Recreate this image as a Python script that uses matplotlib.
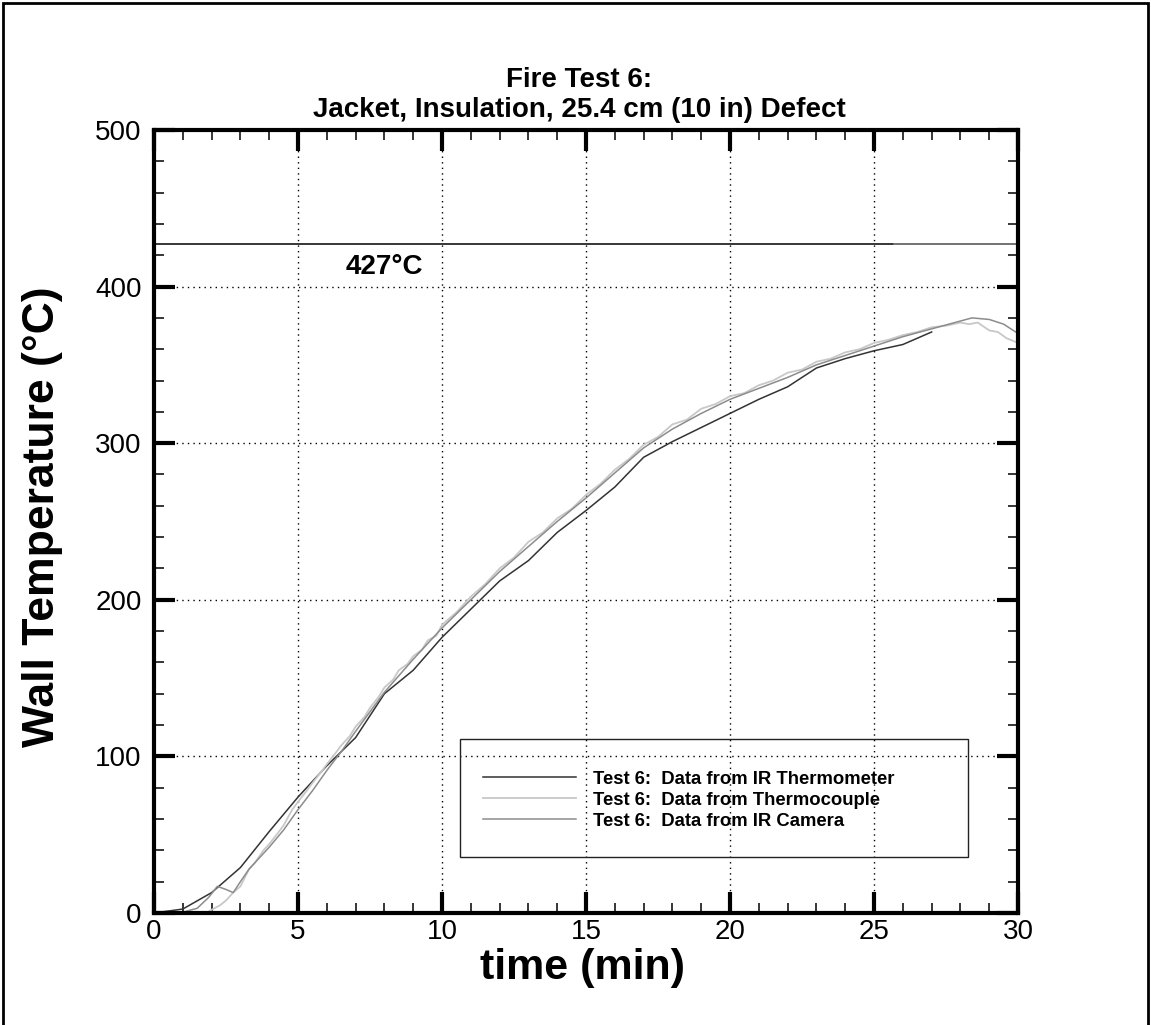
import matplotlib
matplotlib.use("Agg")
import matplotlib.pyplot as plt
from matplotlib.patches import Rectangle
from matplotlib.ticker import MultipleLocator

plt.rcParams['font.family'] = ['Liberation Sans', 'DejaVu Sans']

# IR thermometer readings (min, degC)
ir_t = [0, 1, 2, 3, 4, 5, 6, 7, 8, 9, 10, 11, 12, 13, 14, 15, 16, 17, 18,
        19, 20, 21, 22, 23, 24, 25, 26, 27]
ir_T = [0, 2.5, 13, 29, 52, 74, 94, 112, 140, 155, 176, 194, 212, 225, 243,
        257, 272, 291, 301, 310, 319, 328, 336, 348, 354, 359, 363, 371]

# thermocouple readings
tc_t = [1.8, 2.0, 2.3, 2.5, 2.75, 3.0, 3.3, 3.5, 3.8, 4.0, 4.3, 4.5, 4.8, 5.0,
        5.3, 5.5, 5.8, 6.0, 6.3, 6.5, 6.8, 7.0, 7.3, 7.5, 7.8, 8.0, 8.3, 8.5,
        8.8, 9.0, 9.3, 9.5, 9.8, 10, 10.5, 11, 11.5, 12, 12.5, 13, 13.5, 14,
        14.5, 15, 15.5, 16, 16.5, 17, 17.5, 18, 18.5, 19, 19.5, 20, 20.5, 21,
        21.5, 22, 22.5, 23, 23.5, 24, 24.5, 25, 25.5, 26, 26.5, 27, 27.5, 28,
        28.3, 28.6, 29, 29.3, 29.6, 30]
tc_T = [0, 2, 5, 8, 13, 17, 28, 32, 40, 44, 51, 56, 66, 71, 78, 83, 90, 95,
        102, 107, 113, 119, 125, 131, 138, 144, 149, 155, 159, 164, 168, 174,
        177, 184, 192, 202, 210, 220, 227, 237, 243, 252, 258, 267, 274, 283,
        290, 299, 304, 312, 315, 322, 325, 330, 332, 337, 340, 345, 347, 352,
        354, 358, 360, 364, 366, 369, 371, 374, 375, 377, 376, 377, 372, 371,
        367, 364]

# IR camera readings
cam_t = [0, 1.0, 1.5, 1.9, 2.2, 2.5, 2.75, 3.0, 3.3, 4.0, 4.5, 5.0, 5.5, 6.0,
         6.5, 7.0, 8.0, 9.0, 10, 11, 12, 13, 14, 15, 16, 17, 18, 19, 20, 21,
         22, 23, 24, 25, 26, 27, 28, 28.4, 29, 29.5, 30]
cam_T = [0, 0.5, 3, 10, 17, 15, 13, 20, 28, 42, 53, 66, 78, 91, 103, 116,
         141, 162, 182, 200, 218, 234, 250, 265, 281, 297, 309, 319, 328, 335,
         342, 350, 356, 362, 368, 373, 378, 380, 379, 376, 370]

limit_T = 427

fig = plt.figure(figsize=(11.51, 10.25), dpi=100)
ax = fig.add_axes([0.1338, 0.1093, 0.7507, 0.7639])

ax.axhline(limit_T, color='black', lw=1.1)
ax.plot([25.7, 30], [limit_T, limit_T], color='#888888', lw=1.1)

l1, = ax.plot(ir_t, ir_T, color='#333333', lw=1.1)
l2, = ax.plot(tc_t, tc_T, color='#c8c8c8', lw=1.3)
l3, = ax.plot(cam_t, cam_T, color='#8c8c8c', lw=1.1)

ax.text(8.0, 408, '427°C', ha='center', va='baseline', fontsize=20,
        fontweight='bold')

ax.set_xlim(0, 30)
ax.set_ylim(0, 500)
ax.xaxis.set_major_locator(MultipleLocator(5))
ax.xaxis.set_minor_locator(MultipleLocator(1))
ax.yaxis.set_major_locator(MultipleLocator(100))
ax.yaxis.set_minor_locator(MultipleLocator(20))
ax.grid(True, which='major', color='black', lw=1.0, ls=(0, (1, 3)))

for s in ax.spines.values():
    s.set_linewidth(3)
ax.tick_params(which='both', direction='in', top=True, right=True)
ax.tick_params(which='major', length=15, width=3, labelsize=20)
ax.tick_params(which='minor', length=7, width=1.1)
ax.tick_params(axis='x', which='major', pad=4)
ax.tick_params(axis='y', which='major', pad=9)

fig.text(0.503, 1 - 80 / 1025, 'Fire Test 6:', ha='center', va='center',
         fontsize=20, fontweight='bold')
fig.text(0.503, 1 - 110 / 1025, 'Jacket, Insulation, 25.4 cm (10 in) Defect',
         ha='center', va='center', fontsize=20, fontweight='bold')
fig.text(583 / 1151, 1 - 968 / 1025, 'time (min)', ha='center', va='center',
         fontsize=31, fontweight='bold')
fig.text(43 / 1151, 1 - 517 / 1025, 'Wall Temperature (°C)', ha='center',
         va='center', rotation=90, fontsize=32, fontweight='bold')

# legend box drawn separately so its padding can be uneven
ax.add_patch(Rectangle((0.354, 0.0715), 0.588, 0.1505, transform=ax.transAxes,
                       fill=False, edgecolor='#222222', lw=1.0, zorder=5))
ax.legend([l1, l2, l3],
          ['Test 6:  Data from IR Thermometer',
           'Test 6:  Data from Thermocouple',
           'Test 6:  Data from IR Camera'],
          loc='center left', bbox_to_anchor=(0.381, 0.144), frameon=False,
          prop={'weight': 'bold', 'size': 13.3}, handlelength=5.0,
          handletextpad=0.95, labelspacing=0.22, borderpad=0, borderaxespad=0)

# outer frame around the whole figure
fig.patches.append(Rectangle((3 / 1151, -0.02), 1145 / 1151, 1.02 - 3 / 1025,
                             transform=fig.transFigure, fill=False,
                             edgecolor='black', lw=2))

fig.savefig('out.png', dpi=100)
